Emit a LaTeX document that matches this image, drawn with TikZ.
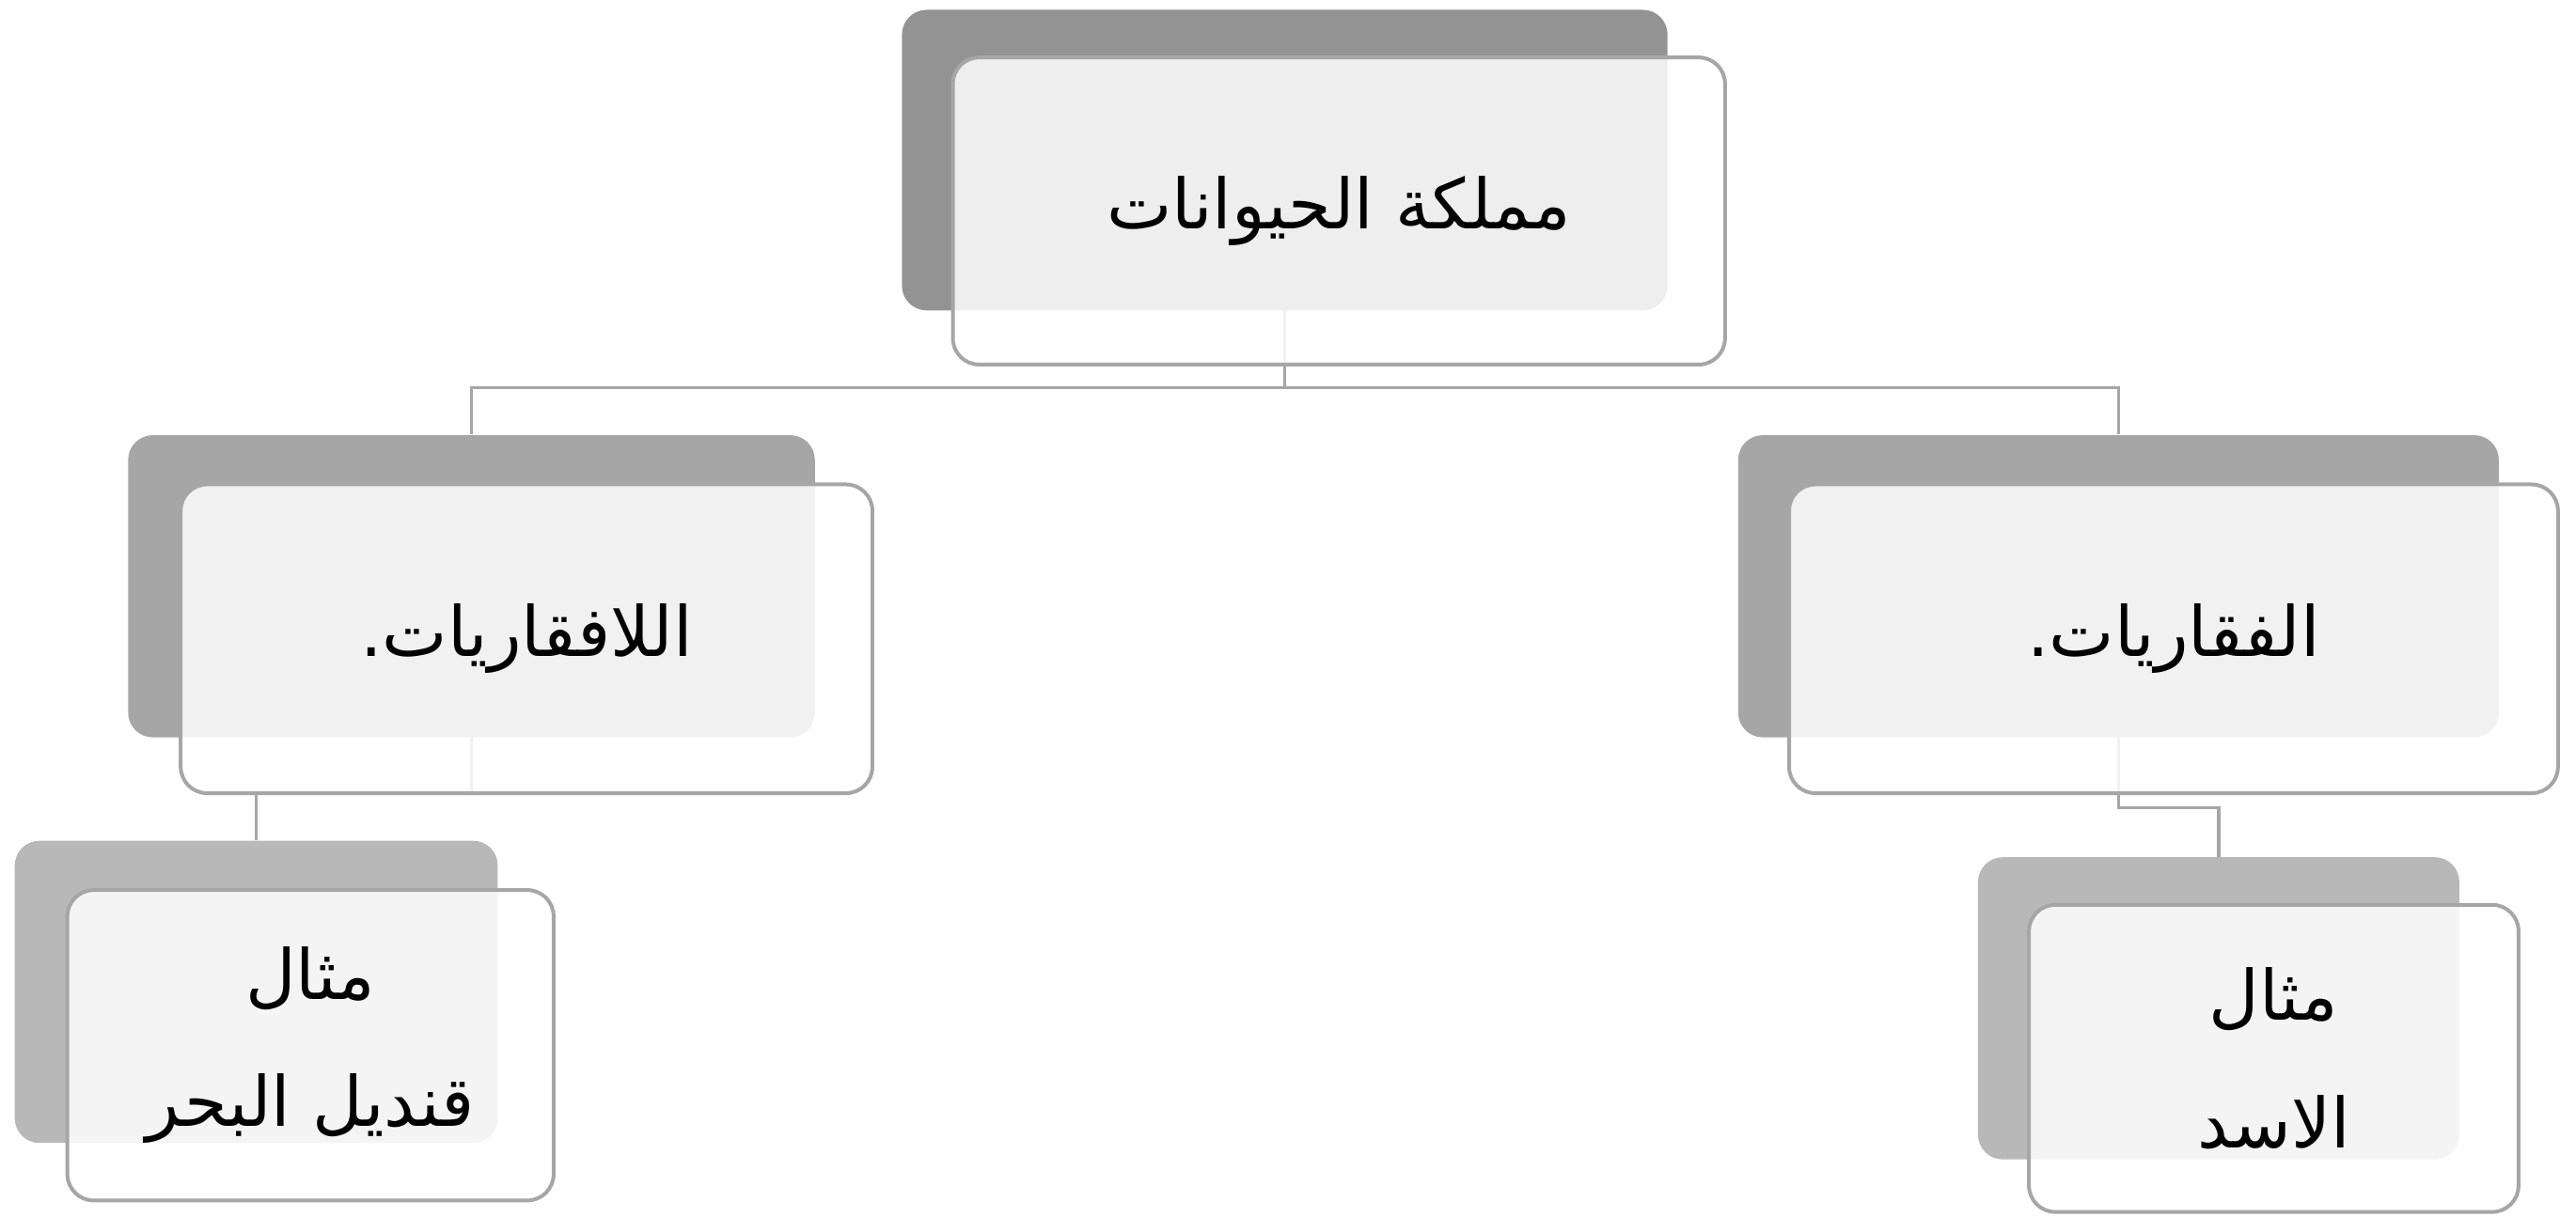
\documentclass[tikz,border=0pt]{standalone}
\usepackage{fontspec}
\newfontfamily\arabicfont[Script=Arabic]{DejaVu Sans}
\TeXXeTstate=1
\definecolor{fondoA}{HTML}{939393}
\definecolor{fondoB}{HTML}{A6A6A6}
\definecolor{fondoC}{HTML}{B8B8B8}
\definecolor{linea}{HTML}{A6A6A6}
\begin{document}
\begin{tikzpicture}[
  fondo/.style={rectangle, rounded corners=0.3cm, inner sep=0pt},
  caja/.style={rectangle, rounded corners=0.32cm, inner sep=0pt, draw=linea,
    line width=1.3pt, fill=white, fill opacity=0.85, text opacity=1,
    align=center, font=\arabicfont\fontsize{24}{44}\selectfont},
  conector/.style={draw=linea, line width=1pt}]
  \useasboundingbox (0,0) rectangle (31.36,-14.82);

  % Cajas de fondo
  \node[fondo, fill=fondoA, minimum width=9.32cm, minimum height=3.66cm] (Rb) at (15.64,-1.95) {};
  \node[fondo, fill=fondoB, minimum width=8.36cm, minimum height=3.68cm] (Ib) at (5.74,-7.14) {};
  \node[fondo, fill=fondoB, minimum width=9.26cm, minimum height=3.68cm] (Vb) at (25.79,-7.14) {};
  \node[fondo, fill=fondoC, minimum width=5.88cm, minimum height=3.68cm] (Mb) at (3.12,-12.08) {};
  \node[fondo, fill=fondoC, minimum width=5.86cm, minimum height=3.68cm] (Lb) at (27.01,-12.28) {};

  % Conectores
  \coordinate (j0) at (15.64,-4.72);
  \coordinate (j1) at (25.79,-9.84);
  \draw[conector] (Rb.south) -- (j0) -| (Ib.north);
  \draw[conector] (j0) -| (Vb.north);
  \draw[conector] (Ib.south) -- ++(0,-0.68) -| (Mb.north);
  \draw[conector] (Vb.south) -- (j1) -| (Lb.north);

  % Cajas
  \node[caja, minimum width=9.40cm, minimum height=3.74cm] (R) at (16.30,-2.57) {\beginR مملكة الحيوانات\endR};
  \node[caja, minimum width=8.42cm, minimum height=3.76cm] (I) at (6.41,-7.78) {\beginR اللافقاريات.\endR};
  \node[caja, minimum width=9.36cm, minimum height=3.76cm] (V) at (26.46,-7.78) {\beginR الفقاريات.\endR};
  \node[caja, minimum width=5.92cm, minimum height=3.78cm] (M) at (3.78,-12.73) {\beginR مثال\endR\\\beginR قنديل البحر\endR};
  \node[caja, minimum width=5.96cm, minimum height=3.74cm] (L) at (27.68,-12.89) {\beginR مثال\endR\\\beginR الاسد\endR};
\end{tikzpicture}
\end{document}
